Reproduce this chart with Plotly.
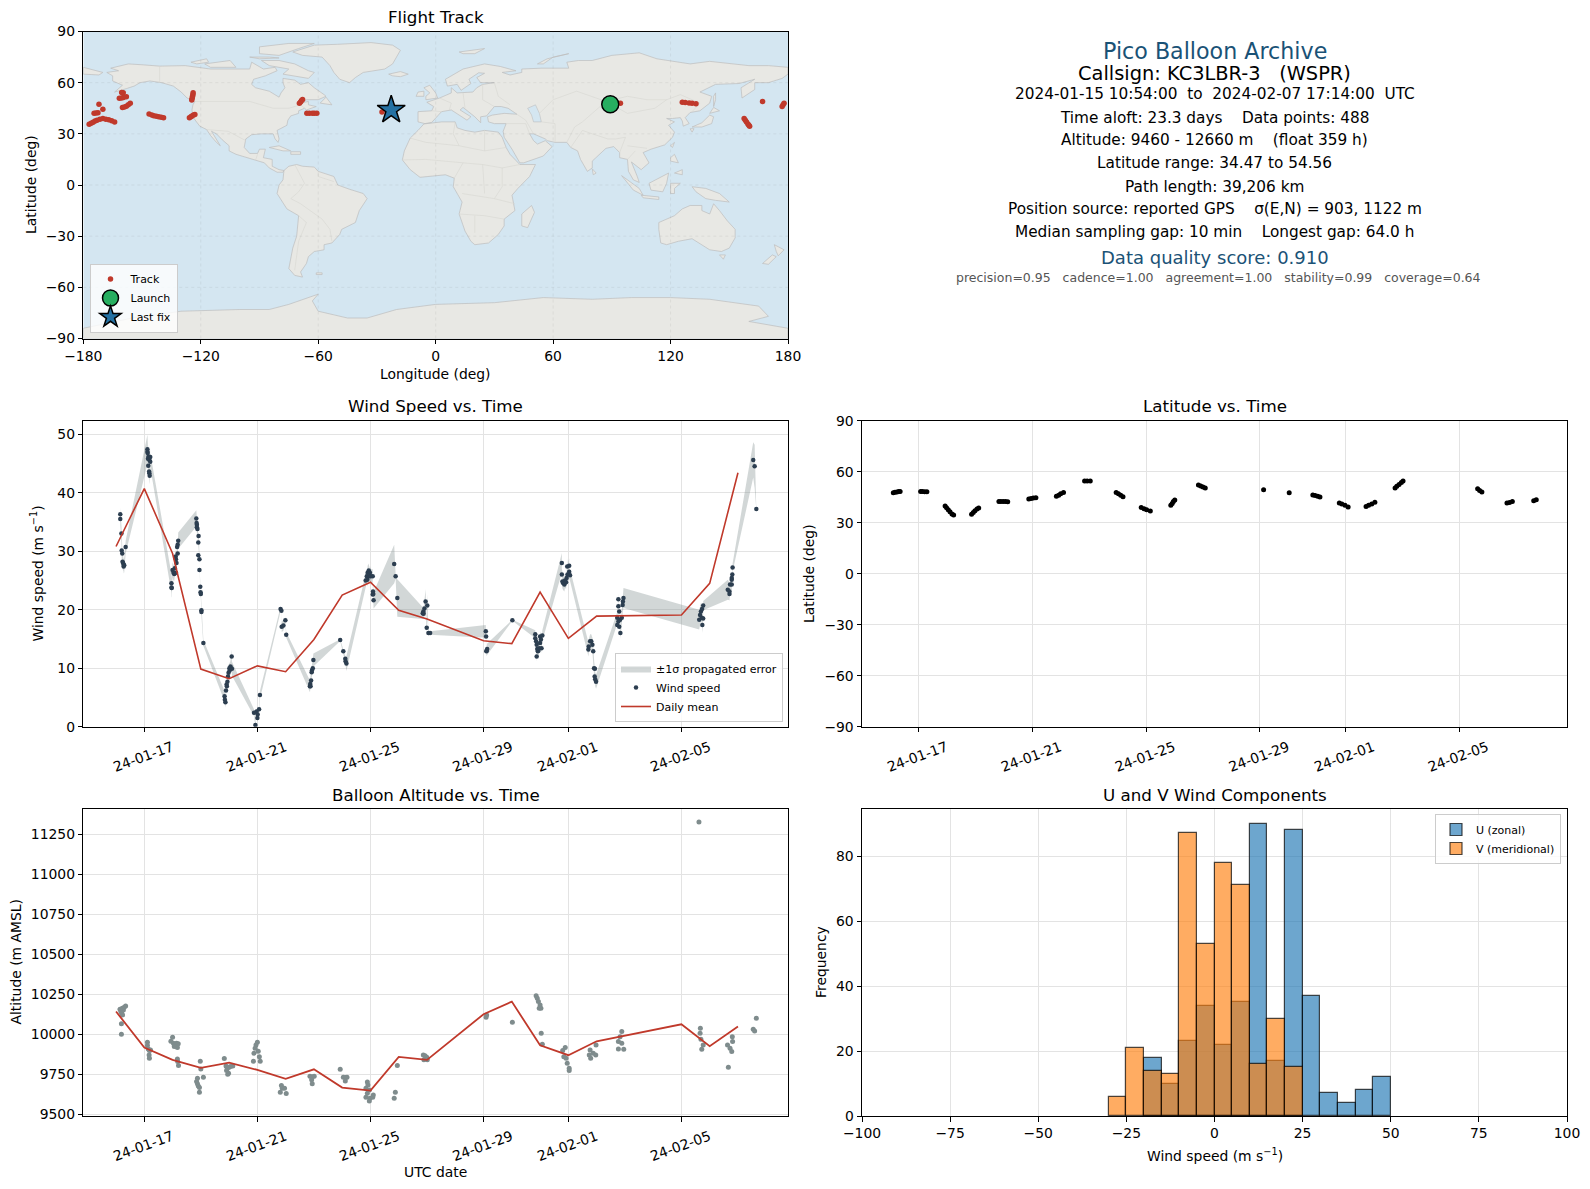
import numpy as np
import pandas as pd
import plotly.graph_objects as go

# ---- flight track (lon, lat) ----
track_lon = [94.4, 126.0, 127.5, 129.5, 131.0, 133.0, 157.6, 158.2, 158.8, 159.5, 160.0, 160.4, 167.0, 177.0, 177.5, 178.0,
             -177.0, -176.0, -175.0, -174.0, -173.0, -171.5, -170.0, -168.5, -167.0, -165.5, -164.0,
             -174.5, -173.5, -172.5, -172.0, -170.0,
             -161.6, -160.5, -159.5, -158.0, -160.4, -159.6, -160.0, -159.0, -158.0, -157.0, -156.0,
             -146.4, -145.0, -144.0, -142.7, -141.5, -140.2, -139.0,
             -125.8, -125.0, -124.5, -123.7, -123.0, -124.6, -124.4, -124.2, -124.0, -123.9,
             -69.6, -69.0, -68.5, -68.0, -65.8, -64.5, -63.0, -62.0, -60.7, -27.4]
track_lat = [47.9, 48.5, 48.4, 48.1, 47.9, 47.7, 39.0, 38.0, 37.0, 35.8, 35.0, 34.5, 49.0, 46.0, 47.0, 48.0,
             35.6, 36.2, 36.8, 37.5, 38.0, 38.6, 39.0, 38.6, 38.2, 37.6, 37.0,
             42.0, 42.2, 42.3, 47.3, 44.4,
             50.8, 51.0, 51.3, 51.8, 54.3, 54.1, 45.5, 45.8, 46.2, 47.0, 47.9,
             41.6, 41.0, 40.6, 40.3, 40.0, 39.7, 39.5,
             39.5, 40.0, 40.4, 41.0, 41.4, 49.8, 50.8, 52.0, 53.0, 54.1,
             47.9, 48.7, 49.5, 50.2, 42.0, 42.1, 42.1, 42.0, 42.0, 42.8]
launch_lon, launch_lat = [89.2], [47.3]
last_lon, last_lat = [-22.7], [44.0]

# ---- coarse land outlines (lon, lat) ----
north_america = [(-168, 66), (-162, 67), (-166, 68.5), (-157, 71), (-150, 70.5), (-141, 69.7), (-128, 70), (-115, 68),
                 (-108, 68), (-95, 68), (-94, 72), (-88, 68), (-82, 69), (-81, 67), (-87, 64), (-93, 62), (-94, 59),
                 (-92, 57), (-85, 55), (-82, 53), (-80, 51.5), (-79, 54), (-77, 57), (-78, 60), (-78, 62.5), (-72, 61.5),
                 (-69, 59), (-65, 60), (-62, 57), (-57, 53), (-56, 52), (-60, 50), (-66, 50), (-69, 48), (-65, 49),
                 (-65, 47), (-61, 46), (-66, 44), (-67, 45), (-70, 43.5), (-70, 42), (-74, 40.5), (-75.5, 38), (-76, 35),
                 (-81, 32), (-80, 27), (-80.5, 25), (-82, 27), (-83, 30), (-89, 30), (-94, 29.5), (-97, 27), (-97.8, 22),
                 (-95, 18.5), (-91, 18.5), (-90, 21), (-87, 21), (-88, 16), (-83.5, 15), (-83.5, 11), (-80, 9),
                 (-77.5, 8.5), (-78, 7.5), (-81, 7.5), (-85, 10), (-87.5, 13), (-92, 14.5), (-96, 16), (-102, 18),
                 (-105.5, 20), (-105.5, 23), (-109, 26.5), (-112, 30), (-114.5, 31.5), (-112, 27), (-110, 23), (-112, 25),
                 (-115, 29), (-117, 32.5), (-120.5, 34.5), (-122.5, 37.5), (-124, 40), (-124.5, 44), (-124, 47), (-123, 49),
                 (-127, 51), (-130, 54.5), (-134, 58), (-140, 60), (-146, 61), (-151, 60), (-154, 58), (-158, 56.5),
                 (-164, 54.5), (-160, 58.5), (-165, 61), (-165, 64)]
greenland = [(-73, 78), (-68, 76), (-58, 75), (-54, 70), (-52, 66), (-49, 62), (-44, 60), (-41, 63), (-37, 66), (-26, 68),
             (-22, 71), (-20, 75), (-18, 79), (-22, 82), (-33, 83.5), (-50, 82.5), (-62, 82)]
baffin = [(-80, 73), (-72, 71), (-65, 67), (-62, 66), (-65, 62.5), (-72, 64), (-78, 65), (-75, 68), (-85, 70), (-89, 73)]
victoria = [(-118, 71), (-105, 73), (-102, 69), (-115, 69)]
ellesmere = [(-90, 77), (-80, 76), (-70, 80), (-62, 83), (-75, 83), (-90, 81)]
banks = [(-125, 72), (-117, 74), (-116, 72), (-122, 71)]
devon = [(-95, 75), (-85, 75), (-80, 74.5), (-90, 74)]
newfoundland = [(-59, 48), (-56, 51.5), (-53, 47)]
cuba = [(-85, 22), (-80, 23), (-74, 20), (-78, 20)]
hispaniola = [(-74, 19.5), (-69, 19.5), (-69, 18), (-74, 18)]
south_america = [(-77.5, 8.5), (-75, 11), (-71, 12), (-68, 11), (-62, 10.5), (-60, 8), (-52, 5), (-50, 0), (-44, -2.5),
                 (-37, -5), (-35, -8), (-39, -15), (-41, -22), (-48, -26), (-49, -29), (-53, -34), (-57, -35), (-57, -38),
                 (-62, -39), (-65, -42), (-66, -46), (-69, -51), (-68, -54), (-72, -53), (-75, -49), (-74, -42), (-73, -37),
                 (-71, -30), (-70, -18), (-76, -14), (-81, -5), (-80, 0), (-78, 3)]
falklands = [(-61, -51.5), (-58, -51.5), (-58, -52.5), (-61, -52.5)]
africa = [(-6, 35.8), (3, 37), (10, 37), (11, 33.5), (15, 32), (20, 31), (25, 32), (32, 31), (34, 28), (36, 22), (38, 18),
          (43, 12), (51, 12), (48, 5), (42, -2), (39, -6), (40.5, -15), (35, -20), (35, -24), (32, -29), (27, -34), (20, -35),
          (18, -33), (15, -27), (12, -17), (13.5, -10), (9, -1), (9.5, 4), (5, 6), (-4, 5), (-8, 4.5), (-13, 9), (-17, 14.7),
          (-16, 20), (-13, 27.5), (-9, 32)]
madagascar = [(49, -12), (50.5, -16), (47, -25), (44, -24), (44, -17)]
eurasia = [(-9, 37), (-9, 43), (-2, 43.5), (-1, 46), (-4.5, 48.5), (2, 51), (8, 54), (8, 57), (11, 54), (19, 54.5), (21, 57),
           (24, 59), (30, 60), (23, 60), (21, 63), (25, 65.5), (22, 65.8), (17, 62), (18, 59.5), (13, 55.5), (11, 59), (6, 58),
           (5, 62), (14, 68), (25, 71), (33, 69.5), (41, 67), (34, 66), (38, 64.5), (44, 66), (44, 68), (54, 68.5), (68, 68.5),
           (67, 72), (73, 73), (80, 73), (90, 76), (104, 77.5), (113, 74), (130, 71), (140, 72.5), (160, 70), (170, 70),
           (180, 69), (180, 65), (177, 62.5), (170, 60), (163, 60), (163, 56), (156.5, 51), (156, 57), (163, 62), (155, 59.5),
           (143, 59), (135, 54.5), (141, 52), (140, 48), (135, 43.5), (130, 42.5), (127.5, 39.5), (129.5, 36), (126.5, 34.5),
           (126, 37.5), (125, 39.5), (121, 39), (118, 39), (122, 37), (119, 35), (122, 31), (121, 28), (117, 23.5), (110, 21),
           (106, 19), (109, 13), (105, 9), (103, 11), (100, 13.5), (103, 5), (104, 1.5), (101, 3), (98.5, 8), (98, 15), (94, 16),
           (94, 19), (91, 22.5), (87, 21.5), (82, 16.5), (80, 14), (80, 10), (77.5, 8), (74, 15), (72.5, 20), (69, 22), (67, 25),
           (61, 25), (57, 26), (56, 27), (50, 30), (48, 30), (50, 26), (52, 24), (56, 26), (59.5, 22.5), (55, 17), (45, 13),
           (43, 13), (39, 21), (35, 28), (34.5, 31.5), (36, 36), (30, 36), (27, 37), (26.5, 40), (29, 41), (35, 42), (41.5, 41.5),
           (37, 45), (33.5, 46), (30, 46), (28, 43), (26, 40.5), (23, 40), (23, 36.5), (20, 40), (14, 45.5), (12.5, 44), (18, 40),
           (16, 38), (11, 42), (8, 44), (3, 43), (0, 39), (-2, 36.7), (-5.5, 36)]
chukotka = [(-180, 65), (-172, 64.5), (-170, 66), (-175, 67.5), (-180, 69)]
britain = [(-5, 50), (1, 51), (0, 54), (-3, 58.5), (-6, 57), (-3, 54), (-5, 52)]
ireland = [(-10, 52), (-6, 52), (-6, 55), (-9, 54.5)]
iceland = [(-24, 65), (-18, 66.5), (-14, 65), (-18, 63.5), (-22, 64)]
svalbard = [(12, 78), (25, 80), (20, 77), (14, 77)]
novaya = [(52, 71), (57, 74), (68, 77), (60, 75), (55, 71)]
honshu = [(131, 34), (136, 34), (141, 36), (142, 40), (140, 41), (136, 36.5)]
hokkaido = [(140, 42), (145, 43.5), (142, 45.5)]
kyushu = [(130, 33), (132, 33), (131, 31)]
sakhalin = [(142, 46), (143, 50), (143, 54), (142, 52)]
taiwan = [(120, 23), (122, 25), (121, 22)]
luzon = [(120, 16), (122, 18), (124, 13), (120, 14)]
mindanao = [(122, 7), (126, 9), (126, 6)]
borneo = [(109, 1), (114, 4), (119, 7), (118, 1), (116, -4), (110, -3)]
sumatra = [(95, 5.5), (104, -2), (106, -6), (101, -3)]
java = [(105, -6), (114, -7), (114, -8.5), (106, -7.5)]
sulawesi = [(120, 1), (125, 1), (122, -2), (122, -5), (120, -5)]
new_guinea = [(131, -1), (138, -2), (145, -5), (150, -10), (143, -9), (138, -8), (133, -4)]
sri_lanka = [(80, 9.5), (82, 7), (80.5, 6)]
australia = [(114, -22), (122, -18), (126, -14), (130, -12), (136, -12), (136, -15), (140, -17), (142, -11), (145, -15),
             (149, -21), (153, -26), (153, -31), (150, -37), (146, -39), (140, -38), (136, -35), (131, -31.5), (124, -33),
             (118, -35), (115, -34), (114, -26)]
tasmania = [(145, -41), (148, -41), (147, -43.5)]
nz_north = [(173, -35), (178, -38), (175, -41.5), (174, -39)]
nz_south = [(172, -41), (174, -42), (170, -46.5), (167, -46)]
antarctica = [(-180, -90), (-180, -84), (-155, -78), (-130, -74), (-100, -73), (-85, -73), (-75, -70), (-60, -64), (-63, -68),
              (-60, -74), (-45, -78), (-35, -78), (-20, -73), (0, -70), (30, -69), (55, -66), (80, -67), (100, -66), (120, -66),
              (140, -67), (165, -71), (170, -77), (160, -80), (180, -84), (180, -90)]
land_polys = [north_america, greenland, baffin, victoria, ellesmere, banks, devon, newfoundland, cuba, hispaniola,
              south_america, falklands, africa, madagascar, eurasia, chukotka, britain, ireland, iceland, svalbard, novaya,
              honshu, hokkaido, kyushu, sakhalin, taiwan, luzon, mindanao, borneo, sumatra, java, sulawesi, new_guinea,
              sri_lanka, australia, tasmania, nz_north, nz_south, antarctica]
caspian = [(47, 45), (51, 47), (53, 42), (54, 37), (50, 37), (49, 41)]
borders = [[(-123, 49), (-95, 49), (-83, 45), (-75, 45), (-69, 47), (-67, 45)], [(-141, 69.7), (-141, 60)],
           [(-117, 32.5), (-106, 31.5), (-97, 26)], [(-92, 14.5), (-91, 18)], [(-72, 12), (-67, 1), (-70, -4), (-74, -8), (-69, -11), (-58, -20), (-54, -26), (-53, -33)],
           [(-70, -18), (-66, -22), (-70, -33), (-72, -50)], [(-60, 8), (-60, 5), (-52, 2)],
           [(25, 32), (25, 20), (36, 22)], [(10, 37), (9, 30), (12, 23), (25, 20)], [(-13, 27.5), (-5, 25), (12, 23)],
           [(-17, 14.7), (-5, 15), (14, 13), (24, 12), (34, 10), (43, 12)], [(9.5, 4), (14, 13)], [(13.5, -5), (30, -8), (40.5, -11)],
           [(12, -17), (25, -18), (35, -20)], [(20, -28), (20, -18)], [(24, 12), (25, -5)], [(34, 10), (34, -1), (30, -8)],
           [(2, 51), (8, 48), (7, 44)], [(-2, 43.5), (3, 43)], [(14, 54), (15, 45)], [(24, 59), (24, 50), (30, 46)],
           [(30, 60), (32, 52), (38, 47)], [(50, 30), (46, 38), (41.5, 41.5)], [(36, 36), (46, 36), (48, 30)], [(61, 25), (61, 36), (54, 37)],
           [(67, 25), (71, 34), (75, 37)], [(69, 22), (75, 32), (80, 30), (88, 27), (92, 27), (97, 28), (94, 19)],
           [(53, 42), (60, 50), (72, 55), (87, 49), (98, 52), (108, 50), (118, 50), (125, 53), (135, 48), (131, 43)],
           [(87, 49), (80, 42), (75, 37)], [(98, 42), (112, 45), (118, 50)], [(87, 49), (98, 42)], [(98, 23), (106, 22), (108, 21.5)], [(98, 15), (102, 20)]]

# ---- wind speed: days since 2024-01-17, value and 1-sigma error ----
wind_days = [-0.85, -0.85, -0.81, -0.80, -0.78, -0.77, -0.75, -0.73, -0.73, -0.71, -0.66,
             0.11, 0.11, 0.12, 0.13, 0.14, 0.15, 0.17, 0.18, 0.18, 0.19, 0.21, 0.21,
             0.96, 0.96, 0.97, 1.00, 1.03, 1.06, 1.08, 1.11, 1.12, 1.12, 1.14, 1.16, 1.18, 1.18, 1.20,
             1.84, 1.85, 1.86, 1.86, 1.88, 1.91, 1.91, 1.92, 1.95, 1.95, 1.98, 1.99, 2.00, 2.02, 2.02, 2.09,
             2.84, 2.85, 2.87, 2.89, 2.91, 2.92, 2.94, 2.96, 2.98, 3.01, 3.02, 3.05, 3.09, 3.10,
             3.88, 3.93, 3.97, 4.00, 4.01, 4.06, 4.09,
             4.82, 4.85, 4.86, 4.92, 4.99, 5.02,
             5.86, 5.87, 5.88, 5.90, 5.92, 5.93, 5.96, 5.98,
             6.93, 7.04, 7.11, 7.12, 7.15,
             7.83, 7.87, 7.89, 7.90, 7.94, 7.96, 7.98, 8.01, 8.08, 8.08, 8.09, 8.10, 8.11,
             8.84, 8.89, 8.95,
             9.85, 9.87, 9.88, 9.91, 9.95, 9.99, 10.01, 10.05, 10.11,
             12.08, 12.09, 12.10, 12.11, 12.13, 13.02,
             13.83, 13.83, 13.86, 13.88, 13.88, 13.90, 13.92, 13.94, 13.97, 14.00, 14.00, 14.03, 14.05, 14.08,
             14.77, 14.77, 14.79, 14.82, 14.86, 14.88, 14.92, 14.94, 14.96, 14.97, 15.03, 15.03, 15.06,
             15.71, 15.72, 15.77, 15.81, 15.85, 15.88, 15.91, 15.93, 15.94, 15.95, 15.98,
             16.73, 16.73, 16.77, 16.77, 16.77, 16.80, 16.80, 16.83, 16.84, 16.89, 16.92, 16.93, 16.95,
             19.63, 19.66, 19.69, 19.72, 19.73, 19.74, 19.77, 19.77,
             20.64, 20.70, 20.70, 20.72, 20.78, 20.78, 20.78, 20.80, 20.81,
             21.54, 21.59, 21.65]
wind_speed = [36.3, 35.5, 33.0, 30.1, 29.6, 28.2, 28.0, 27.7, 27.4, 27.6, 30.7,
              47.4, 47.0, 46.8, 45.8, 44.6, 46.2, 43.6, 45.6, 43.3, 42.9, 46.1, 45.3,
              24.5, 23.8, 23.7, 26.8, 26.3, 26.1, 27.1, 29.1, 28.6, 26.3, 28.0, 30.7, 29.6, 31.1, 31.8,
              35.6, 34.8, 34.5, 34.1, 33.8, 31.5, 29.3, 32.6, 28.6, 26.8, 23.9, 23.0, 22.7, 19.9, 19.6, 14.3,
              5.2, 4.6, 4.2, 6.2, 7.2, 6.9, 7.7, 8.6, 9.2, 10.0, 9.6, 10.3, 12.0, 9.9,
              2.4, 0.3, 2.6, 1.5, 2.1, 3.0, 5.4,
              20.1, 19.8, 17.1, 17.3, 18.2, 15.7,
              6.9, 7.3, 6.9, 7.9, 9.3, 9.6, 10.0, 11.4,
              14.8, 12.9, 11.6, 11.2, 10.8,
              25.0, 25.7, 25.1, 26.3, 26.7, 25.7, 26.3, 25.7, 25.7, 22.6, 23.1, 22.7, 21.6,
              27.8, 25.7, 22.0,
              19.4, 19.7, 19.3, 20.2, 21.4, 16.9, 20.7, 16.0, 16.0,
              16.3, 15.4, 12.9, 13.0, 13.3, 18.2,
              15.8, 15.1, 14.6, 14.0, 12.0, 13.3, 12.9, 13.0, 13.4, 14.3, 15.4, 14.9, 13.4, 15.6,
              28.0, 26.0, 24.8, 24.5, 24.3, 25.0, 24.7, 25.4, 27.4, 26.0, 27.5, 26.5, 25.9,
              13.2, 13.7, 14.6, 14.6, 14.0, 12.9, 10.0, 8.6, 9.9, 8.1, 7.7,
              18.6, 17.4, 21.8, 20.6, 18.0, 19.7, 17.1, 18.3, 16.0, 18.6, 20.8, 21.4, 22.0,
              18.3, 19.1, 19.7, 18.6, 20.1, 17.4, 18.5, 20.7,
              23.4, 23.1, 22.7, 24.3, 24.3, 25.1, 25.4, 26.0, 27.2,
              45.6, 44.5, 37.2]
wind_err = [1.9, 1.9, 1.5, 1.5, 1.3, 1.2, 1.2, 1.2, 1.2, 1.2, 1.1,
            2.5, 2.4, 2.3, 2.2, 2.0, 2.0, 1.8, 1.7, 1.5, 1.4, 1.7, 1.5,
            1.6, 1.6, 1.6, 1.3, 1.3, 1.2, 1.2, 1.2, 1.2, 1.2, 1.2, 1.3, 1.3, 1.3, 1.4,
            1.4, 1.4, 1.3, 1.3, 1.3, 1.1, 1.0, 1.1, 0.9, 0.9, 0.8, 0.8, 0.8, 0.6, 0.6, 0.5,
            0.9, 0.9, 0.9, 0.9, 1.0, 1.0, 1.0, 1.0, 1.0, 1.1, 1.1, 1.1, 1.2, 1.2,
            0.6, 0.3, 0.6, 0.5, 0.5, 0.6, 0.7,
            0.4, 0.5, 0.9, 0.9, 0.5, 0.5,
            1.0, 1.0, 1.0, 1.0, 1.0, 1.0, 1.1, 1.1,
            0.15, 0.5, 0.7, 0.7, 1.3,
            1.2, 1.2, 1.2, 1.2, 1.2, 1.2, 1.2, 1.2, 1.2, 1.2, 1.2, 1.3, 1.4,
            3.3, 0.4, 3.2,
            1.0, 1.0, 1.0, 1.2, 2.1, 0.8, 2.0, 0.4, 0.3,
            1.1, 0.5, 0.8, 0.8, 0.9, 0.1,
            0.7, 0.7, 0.8, 0.9, 0.9, 0.9, 0.9, 0.9, 0.9, 0.9, 0.9, 0.9, 0.9, 0.9,
            1.7, 1.0, 1.2, 1.2, 1.2, 1.2, 1.2, 1.2, 1.3, 1.2, 1.3, 1.2, 1.0,
            1.2, 1.2, 1.2, 1.2, 1.2, 1.2, 1.2, 1.2, 1.2, 1.2, 1.2,
            1.0, 1.0, 1.1, 1.0, 1.0, 1.0, 1.0, 1.0, 1.0, 1.2, 1.4, 1.5, 1.7,
            1.7, 1.6, 1.5, 1.4, 1.3, 1.4, 1.2, 0.8,
            1.7, 1.5, 1.4, 1.2, 1.0, 0.9, 0.8, 0.8, 0.7,
            3.0, 3.7, 0.2]

# ---- daily means ----
daily_days = [-1, 0, 1, 2, 3, 4, 5, 6, 7, 8, 9, 10, 12, 13, 14, 15, 16, 19, 20, 21]
daily_wind = [30.8, 40.7, 29.6, 9.85, 8.2, 10.4, 9.4, 14.9, 22.5, 24.7, 19.9, 18.4, 14.7, 14.2, 23.0, 15.1, 18.9, 19.1, 24.5, 43.4]
daily_alt = [10142, 9917, 9840, 9790, 9823, 9777, 9721, 9781, 9667, 9648, 9858, 9840, 10125, 10204, 9931, 9869, 9956, 10062, 9925, 10048]

# ---- latitude vs time ----
lat_days = [-0.88, -0.82, -0.75, -0.69, -0.64, 0.08, 0.14, 0.22, 0.30,
            0.94, 0.99, 1.05, 1.11, 1.18, 1.24, 1.87, 1.93, 1.99, 2.06, 2.12,
            2.83, 2.90, 2.98, 3.06, 3.14, 3.88, 3.96, 4.04, 4.13, 4.85, 4.93, 5.00, 5.10,
            5.84, 5.93, 6.04, 6.95, 7.03, 7.11, 7.19, 7.83, 7.93, 8.02, 8.15,
            8.87, 8.92, 8.96, 9.01, 9.84, 9.92, 10.00, 10.08, 12.13, 13.03,
            13.86, 13.94, 14.03, 14.11, 14.79, 14.88, 14.99, 15.10, 15.73, 15.82, 15.93, 16.04,
            16.75, 16.81, 16.89, 16.97, 17.03, 19.65, 19.72, 19.80, 20.68, 20.77, 20.87, 21.62, 21.71]
lat_deg = [47.6, 47.9, 48.1, 48.3, 48.4, 48.3, 48.3, 48.2, 48.2,
           39.8, 38.8, 37.6, 36.4, 35.1, 34.5, 34.9, 36.0, 37.0, 38.0, 38.6,
           42.4, 42.5, 42.4, 42.4, 42.3, 43.9, 44.2, 44.5, 44.7, 45.5, 46.2, 47.0, 47.8,
           54.6, 54.6, 54.5, 47.8, 47.1, 46.2, 45.3, 39.0, 38.2, 37.6, 36.9,
           40.2, 41.3, 42.4, 43.3, 52.2, 51.6, 51.0, 50.4, 49.4, 47.6,
           46.3, 46.0, 45.5, 45.1, 41.6, 41.0, 40.2, 39.2, 39.6, 40.3, 41.0, 42.0,
           50.4, 51.4, 52.5, 53.6, 54.5, 50.0, 49.0, 48.0, 41.6, 41.9, 42.4, 42.9, 43.5]

# ---- altitude vs time ----
alt_days = [-0.86, -0.83, -0.80, -0.77, -0.74, -0.71, -0.66, -0.78, -0.81, -0.81,
            0.11, 0.11, 0.14, 0.18, 0.22, 0.17, 0.18,
            1.00, 0.94, 1.03, 1.08, 1.14, 1.20, 1.06, 1.17, 1.17, 1.18, 1.21,
            1.98, 2.00, 2.09, 1.88, 1.85, 1.88, 1.91, 1.95, 1.95,
            2.83, 2.89, 2.94, 3.00, 3.05, 3.13, 2.91, 2.98, 2.95,
            4.00, 3.95, 3.92, 4.03, 3.88, 4.07, 3.86, 4.10,
            4.85, 4.88, 4.96, 4.81, 5.02, 5.86, 5.94, 6.01, 5.92, 5.94,
            6.93, 7.04, 7.12, 7.17, 7.11,
            7.89, 7.91, 7.84, 7.96, 7.89, 7.84, 7.98, 8.10, 7.96, 8.08,
            8.88, 8.84, 8.95, 9.87, 9.93, 9.99, 9.89, 10.01,
            12.11, 12.09, 13.02, 13.86, 13.90, 13.94, 14.00, 14.03, 13.97, 14.04, 14.08,
            14.89, 14.80, 14.84, 14.92, 14.96, 15.03, 15.03,
            15.77, 15.74, 15.79, 15.88, 15.98, 15.97,
            16.89, 16.83, 16.77, 16.89, 16.77, 16.96,
            19.62, 19.67, 19.66, 19.69, 19.77, 19.72,
            20.63, 20.72, 20.78, 20.80, 20.81, 20.66, 21.54, 21.59, 21.65]
alt_m = [10156, 10142, 10131, 10121, 10152, 10169, 10177, 10162, 10065, 10000,
         9950, 9929, 9908, 9898, 9902, 9871, 9850,
         9981, 9956, 9944, 9933, 9944, 9940, 9923, 9917, 9846, 9829, 9804,
         9831, 9783, 9731, 9725, 9704, 9690, 9677, 9667, 9637,
         9848, 9802, 9787, 9794, 9798, 9802, 9773, 9756, 9750,
         9950, 9933, 9913, 9894, 9881, 9860, 9831, 9831,
         9679, 9662, 9662, 9637, 9629, 9737, 9735, 9737, 9715, 9690,
         9781, 9731, 9729, 9731, 9708,
         9702, 9683, 9662, 9652, 9631, 9606, 9600, 9621, 9583, 9606,
         9637, 9600, 9804, 9871, 9865, 9856, 9840, 9840,
         10121, 10106, 10075, 10240, 10225, 10204, 10183, 10163, 10163, 10006, 9938,
         9917, 9898, 9860, 9850, 9819, 9788, 9773,
         9902, 9871, 9850, 9881, 9933, 9871,
         10017, 9985, 9954, 9944, 9908, 9906,
         11327, 10038, 10006, 9969, 9933, 9906,
         9933, 9913, 9892, 9985, 9954, 9794, 10031, 10021, 10100]

# ---- U / V histogram ----
u_bins = [-17.5, -12.5, -7.5, -2.5, 2.5, 7.5, 12.5, 17.5, 22.5, 27.5, 32.5, 37.5, 42.5, 47.5]
u_counts = [18, 10, 23, 34, 22, 35, 90, 17, 88, 37, 7, 4, 8, 12]
v_bins = [-27.5, -22.5, -17.5, -12.5, -7.5, -2.5, 2.5, 7.5, 12.5, 17.5, 22.5]
v_counts = [6, 21, 14, 13, 87, 53, 78, 71, 16, 30, 15]

# ---- text block ----
info_lines = ["2024-01-15 10:54:00  to  2024-02-07 17:14:00  UTC",
              "Time aloft: 23.3 days    Data points: 488",
              "Altitude: 9460 - 12660 m    (float 359 h)",
              "Latitude range: 34.47 to 54.56",
              "Path length: 39,206 km",
              "Position source: reported GPS    σ(E,N) = 903, 1122 m",
              "Median sampling gap: 10 min    Longest gap: 64.0 h"]
info_y = [94.3, 117.6, 140, 163.3, 186.6, 208.9, 232.2]

date_ticks = ["2024-01-17", "2024-01-21", "2024-01-25", "2024-01-29", "2024-02-01", "2024-02-05"]
date_labels = ["24-01-17", "24-01-21", "24-01-25", "24-01-29", "24-02-01", "24-02-05"]

W, H = 1590, 1189
FONT = "DejaVu Sans"
RED = "#c0392b"
NAVY = "#1a5276"
GRID = "#e3e3e3"
base = pd.Timestamp("2024-01-17")


def to_dates(days):
    return base + pd.to_timedelta(np.array(days, dtype=float), unit="D")


def xdom(left, right):
    return [left / W, right / W]


def ydom(top, bottom):
    return [1 - bottom / H, 1 - top / H]


def polys_to_xy(polys):
    xs, ys = [], []
    for poly in polys:
        closed = list(poly) + [poly[0]]
        xs += [p[0] for p in closed] + [None]
        ys += [p[1] for p in closed] + [None]
    return xs, ys


def lines_to_xy(lines):
    xs, ys = [], []
    for line in lines:
        xs += [p[0] for p in line] + [None]
        ys += [p[1] for p in line] + [None]
    return xs, ys


fig = go.Figure()

# map
land_x, land_y = polys_to_xy(land_polys)
fig.add_trace(go.Scatter(x=land_x, y=land_y, mode="lines", fill="toself", fillcolor="#e8e8e4",
                         line=dict(color="#bdbdbd", width=0.7), showlegend=False, hoverinfo="skip",
                         xaxis="x", yaxis="y"))
cas_x, cas_y = polys_to_xy([caspian])
fig.add_trace(go.Scatter(x=cas_x, y=cas_y, mode="lines", fill="toself", fillcolor="#d4e6f1",
                         line=dict(color="#bdbdbd", width=0.6), showlegend=False, hoverinfo="skip",
                         xaxis="x", yaxis="y"))
bord_x, bord_y = lines_to_xy(borders)
fig.add_trace(go.Scatter(x=bord_x, y=bord_y, mode="lines", line=dict(color="#d6d6d2", width=0.6),
                         showlegend=False, hoverinfo="skip", xaxis="x", yaxis="y"))
fig.add_trace(go.Scatter(x=track_lon, y=track_lat, mode="markers", name="Track",
                         marker=dict(color=RED, size=5.5), xaxis="x", yaxis="y", legend="legend"))
fig.add_trace(go.Scatter(x=launch_lon, y=launch_lat, mode="markers", name="Launch",
                         marker=dict(color="#27ae60", size=17, line=dict(color="black", width=1.5)),
                         xaxis="x", yaxis="y", legend="legend"))
fig.add_trace(go.Scatter(x=last_lon, y=last_lat, mode="markers", name="Last fix",
                         marker=dict(color="#2471a3", size=21, symbol="star", line=dict(color="black", width=1.5)),
                         xaxis="x", yaxis="y", legend="legend"))

# wind speed
t_wind = to_dates(wind_days)
v = np.array(wind_speed)
e = np.array(wind_err)
band_x = list(t_wind) + list(t_wind[::-1])
band_y = list(v + e) + list((v - e)[::-1])
fig.add_trace(go.Scatter(x=band_x, y=band_y, mode="lines", fill="toself", name="±1σ propagated error",
                         fillcolor="rgba(127,140,141,0.35)", line=dict(width=0, color="rgba(127,140,141,0.35)"),
                         xaxis="x2", yaxis="y2", legend="legend2"))
fig.add_trace(go.Scatter(x=t_wind, y=wind_speed, mode="markers", name="Wind speed",
                         marker=dict(color="#2c3e50", size=4.5), xaxis="x2", yaxis="y2", legend="legend2"))
fig.add_trace(go.Scatter(x=to_dates(daily_days), y=daily_wind, mode="lines", name="Daily mean",
                         line=dict(color=RED, width=1.6), xaxis="x2", yaxis="y2", legend="legend2"))

# latitude
fig.add_trace(go.Scatter(x=to_dates(lat_days), y=lat_deg, mode="markers", marker=dict(color="black", size=5),
                         showlegend=False, xaxis="x3", yaxis="y3"))

# altitude
fig.add_trace(go.Scatter(x=to_dates(alt_days), y=alt_m, mode="markers", marker=dict(color="#7f8c8d", size=5),
                         showlegend=False, xaxis="x4", yaxis="y4"))
fig.add_trace(go.Scatter(x=to_dates(daily_days), y=daily_alt, mode="lines", line=dict(color=RED, width=1.8),
                         showlegend=False, xaxis="x4", yaxis="y4"))

# histogram
fig.add_trace(go.Bar(x=u_bins, y=u_counts, width=5, name="U (zonal)", marker=dict(color="rgba(31,119,180,0.65)",
                     line=dict(color="rgba(0,0,0,0.7)", width=1.2)), xaxis="x5", yaxis="y5", legend="legend3"))
fig.add_trace(go.Bar(x=v_bins, y=v_counts, width=5, name="V (meridional)", marker=dict(color="rgba(255,127,14,0.65)",
                     line=dict(color="rgba(0,0,0,0.7)", width=1.2)), xaxis="x5", yaxis="y5", legend="legend3"))

axis_style = dict(showline=True, linecolor="black", linewidth=1, mirror=True, ticks="outside", ticklen=4.5,
                  tickwidth=1, tickcolor="black", showgrid=True, gridcolor=GRID, gridwidth=1, zeroline=False,
                  automargin=False, tickfont=dict(family=FONT, size=13.9, color="black"))
date_axis = dict(type="date", tickvals=date_ticks, ticktext=date_labels, tickangle=-20, ticklabelshift=28,
                 ticklabelstandoff=2)
left_range = [base + pd.Timedelta(days=-2.158), base + pd.Timedelta(days=22.77)]
right_range = [base + pd.Timedelta(days=-1.98), base + pd.Timedelta(days=22.79)]
left_x = xdom(83.3, 788)
right_x = xdom(862, 1567)
row1 = ydom(31.5, 338.5)
row2 = ydom(420.7, 726.7)
row3 = ydom(809, 1116)
lat_ticks = [-90, -60, -30, 0, 30, 60, 90]

fig.update_layout(
    width=W, height=H, margin=dict(l=0, r=0, t=0, b=0), paper_bgcolor="white", plot_bgcolor="white",
    barmode="overlay", font=dict(family=FONT, color="black"), bargap=0,
    xaxis=dict(axis_style, domain=left_x, anchor="y", range=[-180, 180], tickvals=[-180, -120, -60, 0, 60, 120, 180]),
    yaxis=dict(axis_style, domain=row1, anchor="x", range=[-90, 90], tickvals=lat_ticks),
    xaxis2=dict(axis_style, domain=left_x, anchor="y2", range=left_range, **date_axis),
    yaxis2=dict(axis_style, domain=row2, anchor="x2", range=[0, 52.3], tickvals=[0, 10, 20, 30, 40, 50]),
    xaxis3=dict(axis_style, domain=right_x, anchor="y3", range=right_range, **date_axis),
    yaxis3=dict(axis_style, domain=row2, anchor="x3", range=[-90, 90], tickvals=lat_ticks),
    xaxis4=dict(axis_style, domain=left_x, anchor="y4", range=left_range, **date_axis),
    yaxis4=dict(axis_style, domain=row3, anchor="x4", range=[9489, 11408], tickformat="d",
                tickvals=[9500, 9750, 10000, 10250, 10500, 10750, 11000, 11250]),
    xaxis5=dict(axis_style, domain=right_x, anchor="y5", range=[-100, 100], tickvals=[-100, -75, -50, -25, 0, 25, 50, 75, 100]),
    yaxis5=dict(axis_style, domain=row3, anchor="x5", range=[0, 94.5], tickvals=[0, 20, 40, 60, 80]),
    legend=dict(x=89.5 / W, y=1 - 332.5 / H, xanchor="left", yanchor="bottom", bgcolor="rgba(255,255,255,0.8)",
                bordercolor="#cccccc", borderwidth=1, font=dict(size=11), itemwidth=30, tracegroupgap=0),
    legend2=dict(x=783 / W, y=1 - 722 / H, xanchor="right", yanchor="bottom", bgcolor="rgba(255,255,255,0.8)",
                 bordercolor="#cccccc", borderwidth=1, font=dict(size=11), itemwidth=30, tracegroupgap=0),
    legend3=dict(x=1561 / W, y=1 - 814 / H, xanchor="right", yanchor="top", bgcolor="rgba(255,255,255,0.8)",
                 bordercolor="#cccccc", borderwidth=1, font=dict(size=11), itemwidth=30, tracegroupgap=0),
)

# faint grid over the land
for lon in [-120, -60, 0, 60, 120]:
    fig.add_shape(type="line", x0=lon, x1=lon, y0=-90, y1=90, xref="x", yref="y", layer="above",
                  line=dict(color="rgba(120,120,120,0.14)", width=0.8, dash="dot"))
for lat in [-60, -30, 0, 30, 60]:
    fig.add_shape(type="line", x0=-180, x1=180, y0=lat, y1=lat, xref="x", yref="y", layer="above",
                  line=dict(color="rgba(120,120,120,0.14)", width=0.8, dash="dot"))
fig.update_xaxes(gridcolor="rgba(0,0,0,0)", selector=dict(anchor="y"))
fig.update_yaxes(gridcolor="rgba(0,0,0,0)", selector=dict(anchor="x"))
# ocean colour only behind the map
fig.add_shape(type="rect", x0=-180, x1=180, y0=-90, y1=90, xref="x", yref="y", layer="below",
              fillcolor="#d4e6f1", line=dict(width=0))


def label(x, y, text, size, color="black", angle=0):
    fig.add_annotation(x=x / W, y=1 - y / H, xref="paper", yref="paper", text=text, showarrow=False,
                       xanchor="center", yanchor="middle", textangle=angle,
                       font=dict(family=FONT, size=size, color=color))


# panel titles
label(435.6, 17.5, "Flight Track", 16.7)
label(435.6, 405.6, "Wind Speed vs. Time", 16.7)
label(1214.5, 405.6, "Latitude vs. Time", 16.7)
label(435.6, 795, "Balloon Altitude vs. Time", 16.7)
label(1214.5, 795, "U and V Wind Components", 16.7)

# axis titles
label(435.6, 374, "Longitude (deg)", 13.9)
label(435.6, 1172, "UTC date", 13.9)
label(1214.5, 1155, "Wind speed (m s<sup>−1</sup>)", 13.9)
label(31.4, 184.5, "Latitude (deg)", 13.9, angle=-90)
label(37.5, 574, "Wind speed (m s<sup>−1</sup>)", 13.9, angle=-90)
label(809, 574, "Latitude (deg)", 13.9, angle=-90)
label(15.5, 962, "Altitude (m AMSL)", 13.9, angle=-90)
label(821, 962, "Frequency", 13.9, angle=-90)

# summary text
label(1214.5, 50.7, "Pico Balloon Archive", 22.2, NAVY)
label(1214.5, 73, "Callsign: KC3LBR-3   (WSPR)", 19.4)
for text, y in zip(info_lines, info_y):
    label(1214.5, y, text, 15.3)
label(1214.5, 257.6, "Data quality score: 0.910", 18, NAVY)
label(1218, 277.8, "precision=0.95   cadence=1.00   agreement=1.00   stability=0.99   coverage=0.64", 12.5, "#555555")

fig.write_html("out.html", config={"displayModeBar": False}, post_script="document.body.style.margin='0';")
